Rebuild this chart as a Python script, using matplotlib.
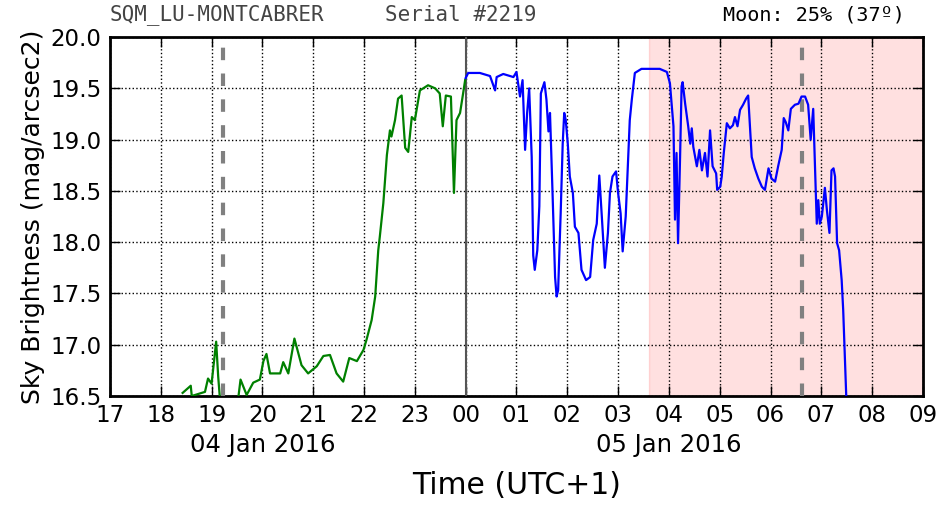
import matplotlib
matplotlib.use('Agg')
import matplotlib.pyplot as plt
from matplotlib.ticker import FixedLocator, FixedFormatter

# evening part (green), hours since 00:00 of 04 Jan (UTC+1)
t_green = [18.43, 18.59, 18.61, 18.87, 18.93, 19.00, 19.09, 19.13, 19.16, 19.30, 19.45,
           19.53, 19.57, 19.69, 19.82, 19.95, 20.02, 20.08, 20.15, 20.35, 20.41, 20.51,
           20.63, 20.77, 20.90, 21.07, 21.20, 21.33, 21.46, 21.59, 21.71, 21.86, 21.99,
           22.05, 22.15, 22.22, 22.28, 22.31, 22.38, 22.45, 22.51, 22.54, 22.61, 22.67,
           22.74, 22.81, 22.87, 22.94, 23.00, 23.10, 23.26, 23.40, 23.49, 23.55, 23.61,
           23.71, 23.77, 23.82, 23.89, 23.95, 23.99]
m_green = [16.53, 16.60, 16.50, 16.54, 16.67, 16.62, 17.03, 16.69, 16.50, 16.20, 16.20,
           16.50, 16.66, 16.51, 16.63, 16.66, 16.84, 16.91, 16.72, 16.72, 16.83, 16.72,
           17.06, 16.80, 16.72, 16.79, 16.89, 16.90, 16.72, 16.64, 16.87, 16.84, 16.95,
           17.05, 17.24, 17.47, 17.92, 18.05, 18.38, 18.85, 19.09, 19.03, 19.19, 19.40,
           19.43, 18.92, 18.88, 19.22, 19.19, 19.48, 19.53, 19.50, 19.45, 19.13, 19.43,
           19.42, 18.48, 19.19, 19.26, 19.45, 19.58]

# after midnight (blue)
t_blue = [24.00, 24.05, 24.28, 24.48, 24.58, 24.61, 24.74, 24.94, 25.00, 25.07, 25.12,
          25.17, 25.21, 25.25, 25.30, 25.33, 25.36, 25.41, 25.45, 25.48, 25.55, 25.59,
          25.63, 25.66, 25.71, 25.76, 25.79, 25.82, 25.87, 25.91, 25.94, 25.97, 26.01,
          26.05, 26.11, 26.15, 26.22, 26.28, 26.37, 26.45, 26.51, 26.58, 26.63, 26.68,
          26.74, 26.80, 26.84, 26.89, 26.96, 27.00, 27.05, 27.09, 27.15, 27.20, 27.23,
          27.27, 27.33, 27.46, 27.82, 27.96, 28.02, 28.09, 28.12, 28.15, 28.18, 28.22,
          28.25, 28.27, 28.32, 28.38, 28.42, 28.45, 28.48, 28.55, 28.60, 28.65, 28.71,
          28.76, 28.81, 28.86, 28.93, 28.95, 29.01, 29.04, 29.08, 29.14, 29.20, 29.26,
          29.30, 29.35, 29.40, 29.46, 29.52, 29.56, 29.63, 29.69, 29.76, 29.83, 29.89,
          29.96, 30.02, 30.09, 30.15, 30.22, 30.26, 30.30, 30.35, 30.40, 30.48, 30.55,
          30.61, 30.68, 30.74, 30.79, 30.84, 30.87, 30.91, 30.94, 30.97, 31.01, 31.07,
          31.11, 31.16, 31.20, 31.24, 31.27, 31.31, 31.35, 31.40, 31.43, 31.49, 31.55]
m_blue = [19.60, 19.65, 19.65, 19.62, 19.48, 19.61, 19.64, 19.61, 19.66, 19.42, 19.58,
          18.90, 19.26, 19.50, 18.83, 17.87, 17.73, 17.92, 18.35, 19.45, 19.56, 19.39,
          19.08, 19.26, 18.48, 17.66, 17.47, 17.53, 18.28, 18.96, 19.26, 19.19, 18.96,
          18.64, 18.48, 18.15, 18.09, 17.73, 17.63, 17.66, 18.02, 18.18, 18.65, 18.25,
          17.75, 18.09, 18.48, 18.64, 18.69, 18.48, 18.28, 17.91, 18.25, 18.83, 19.19,
          19.39, 19.65, 19.69, 19.69, 19.66, 19.55, 19.13, 18.22, 18.87, 17.99, 18.83,
          19.52, 19.56, 19.35, 19.13, 18.96, 19.11, 18.93, 18.74, 18.90, 18.70, 18.87,
          18.64, 19.09, 18.74, 18.67, 18.51, 18.54, 18.64, 18.87, 19.16, 19.11, 19.14,
          19.22, 19.13, 19.29, 19.34, 19.40, 19.43, 18.83, 18.72, 18.62, 18.54, 18.51,
          18.72, 18.62, 18.59, 18.74, 18.90, 19.21, 19.17, 19.09, 19.30, 19.34, 19.35,
          19.42, 19.42, 19.34, 19.00, 19.30, 18.83, 18.18, 18.41, 18.18, 18.25, 18.53,
          18.31, 18.09, 18.70, 18.72, 18.64, 17.99, 17.92, 17.63, 17.34, 16.50, 16.20]

hour_ticks = list(range(17, 34))
hour_labels = ['17', '18', '19', '20', '21', '22', '23', '00', '01', '02', '03',
               '04', '05', '06', '07', '08', '09']
date_pos = [20, 28]
date_labels = ['04 Jan 2016', '05 Jan 2016']
y_ticks = [16.5, 17.0, 17.5, 18.0, 18.5, 19.0, 19.5, 20.0]

moon_start = 27.61      # moon above horizon
moon_culm = [19.22, 30.62]
midnight = 24.0

fig = plt.figure(figsize=(9.52, 5.12), dpi=100)
ax = fig.add_axes([0.1155, 0.2266, 0.854, 0.701])

ax.axvspan(moon_start, 33, color='red', alpha=0.12, lw=1)
for x in moon_culm:
    ax.axvline(x, color='gray', lw=3, dashes=(3, 3.2), zorder=3)
ax.axvline(midnight, color='#555555', lw=1.5, zorder=3)

ax.plot(t_green, m_green, color='green', lw=1.6, zorder=4)
ax.plot(t_blue, m_blue, color='blue', lw=1.6, zorder=4)

ax.set_xlim(17, 33)
ax.set_ylim(16.5, 20.0)

ax.xaxis.remove_overlapping_locs = False
ax.xaxis.set_major_locator(FixedLocator(hour_ticks))
ax.xaxis.set_major_formatter(FixedFormatter(hour_labels))
ax.xaxis.set_minor_locator(FixedLocator(date_pos))
ax.xaxis.set_minor_formatter(FixedFormatter(date_labels))
ax.set_yticks(y_ticks)
ax.set_yticklabels(['%.1f' % v for v in y_ticks])

ax.tick_params(which='major', direction='in', length=7, width=1, top=True, right=True,
               labelsize=16.5, pad=6)
ax.tick_params(axis='x', which='minor', length=0, labelsize=17.5, pad=27)
ax.grid(True, which='major', color='black', linestyle=':', linewidth=1)
for s in ax.spines.values():
    s.set_linewidth(2)

ax.set_xlabel('Time (UTC+1)', fontsize=21.5, labelpad=10)
ax.set_ylabel('Sky Brightness (mag/arcsec2)', fontsize=18, labelpad=4)

fig.text(0.1155, 0.952, 'SQM_LU-MONTCABRER', family='DejaVu Sans Mono', fontsize=15,
         color='#444444', ha='left', va='bottom')
fig.text(0.404, 0.952, 'Serial #2219', family='DejaVu Sans Mono', fontsize=15,
         color='#444444', ha='left', va='bottom')
fig.text(0.951, 0.952, 'Moon: 25% (37º)', family='DejaVu Sans Mono', fontsize=14.5,
         color='black', ha='right', va='bottom')

fig.savefig('out.png', dpi=100)
